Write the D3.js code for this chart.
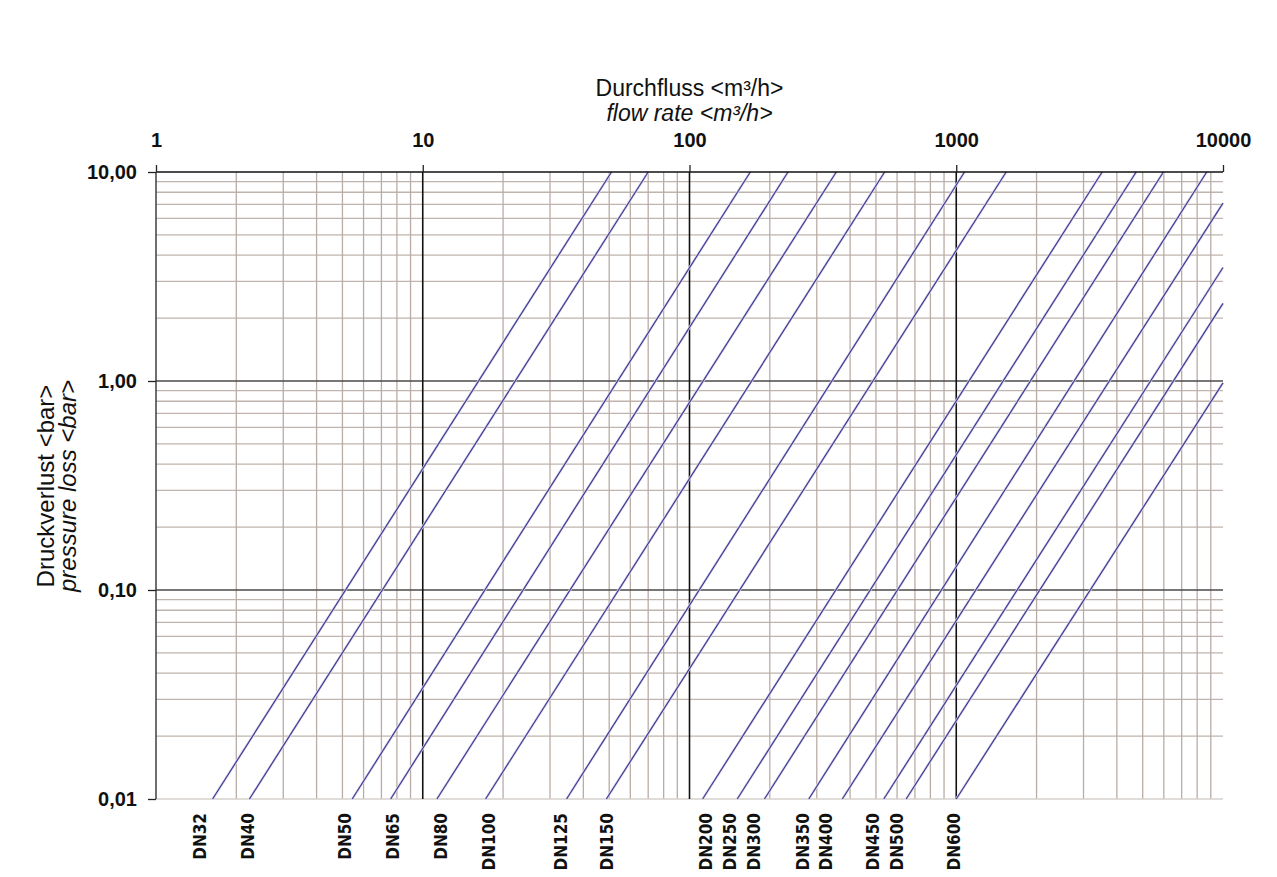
<!DOCTYPE html>
<html lang="de">
  <head>
    <meta charset="utf-8">
    <title>Druckverlust / pressure loss</title>
    <script src="https://d3js.org/d3.v7.min.js"></script>
    <style>
      body { margin: 0; background: #fff; }
      text { font-family: "Liberation Sans", Arial, sans-serif; fill: #111; }
      .dn { font-family: "DejaVu Sans Condensed", "DejaVu Sans", sans-serif; font-stretch: condensed; font-weight: bold; font-size: 17px; }
    </style>
  </head>
  <body>
  <script>

  // nominal sizes
  var dnLabels = ["DN32", "DN40", "DN50", "DN65", "DN80", "DN100", "DN125", "DN150",
                  "DN200", "DN250", "DN300", "DN350", "DN400", "DN450", "DN500", "DN600"];
  // flow rate <m3/h> where each line starts at 0,01 bar
  var qStart = [1.63, 2.24, 5.44, 7.58, 11.3, 17.2, 34.6, 48.8,
                112, 151, 191, 280, 374, 535, 649, 1000];
  // end point of each line (top edge or right edge)
  var qEnd = [51, 70, 169, 234, 355, 539, 1074, 1539,
              3524, 4725, 5979, 8690, 10000, 10000, 10000, 10000];
  var pEnd = [10, 10, 10, 10, 10, 10, 10, 10,
              10, 10, 10, 10, 7.1, 3.49, 2.35, 0.98];
  // where the DN label sits under the chart (flow rate)
  var labelQ = [1.46, 2.21, 5.09, 7.71, 11.7, 17.7, 32.9, 48.9,
                115, 141.5, 174, 265, 324, 486, 598, 982];

  var xTicks = [1, 10, 100, 1000, 10000];
  var xTickLabels = ["1", "10", "100", "1000", "10000"];
  var yTicks = [10, 1, 0.1, 0.01];
  var yTickLabels = ["10,00", "1,00", "0,10", "0,01"];

  var w = 1277;
  var h = 877;
  var margin = {top: 172, right: 54, bottom: 78, left: 156};

  var svg = d3.select("body")
    .append("svg")
    .attr("width", w)
    .attr("height", h);

  var xScale = d3.scaleLog()
    .domain([1, 10000])
    .range([margin.left, w - margin.right]);

  var yScale = d3.scaleLog()
    .domain([0.01, 10])
    .range([h - margin.bottom, margin.top]);

  var x0 = xScale.range()[0], x1 = xScale.range()[1];
  var y0 = yScale.range()[1], y1 = yScale.range()[0];

  // minor grid values 2..9 per decade
  var minorX = [];
  [1, 10, 100, 1000].forEach(function(d) {
    for (var k = 2; k <= 9; k++) minorX.push(d * k);
  });
  var minorY = [];
  [0.01, 0.1, 1].forEach(function(d) {
    for (var k = 2; k <= 9; k++) minorY.push(d * k);
  });

  var grid = svg.append("g");

  grid.selectAll(".hminor").data(minorY).enter().append("line")
    .attr("x1", x0).attr("x2", x1)
    .attr("y1", d => yScale(d)).attr("y2", d => yScale(d))
    .style("stroke", "#bfb4ae")
    .style("stroke-width", 1.3);

  grid.selectAll(".vminor").data(minorX).enter().append("line")
    .attr("x1", d => xScale(d)).attr("x2", d => xScale(d))
    .attr("y1", y0).attr("y2", y1)
    .style("stroke", "#b9aca6")
    .style("stroke-width", 1.3);

  // bottom edge, light
  grid.append("line")
    .attr("x1", x0).attr("x2", x1)
    .attr("y1", y1).attr("y2", y1)
    .style("stroke", "#d6d0cc")
    .style("stroke-width", 1.3);

  // decade lines
  grid.selectAll(".hmajor").data([1, 0.1]).enter().append("line")
    .attr("x1", x0).attr("x2", x1)
    .attr("y1", d => yScale(d)).attr("y2", d => yScale(d))
    .style("stroke", "#4a4a4a")
    .style("stroke-width", 1.5);

  grid.selectAll(".vmajor").data([10, 100, 1000]).enter().append("line")
    .attr("x1", d => xScale(d)).attr("x2", d => xScale(d))
    .attr("y1", y0).attr("y2", y1)
    .style("stroke", "#111")
    .style("stroke-width", 1.6);

  // pressure loss lines
  var lineGen = d3.line()
    .x(d => xScale(d[0]))
    .y(d => yScale(d[1]));

  var lines = dnLabels.map(function(dn, i) {
    return [[qStart[i], 0.01], [qEnd[i], pEnd[i]]];
  });

  svg.append("g").selectAll("path").data(lines).enter().append("path")
    .attr("d", lineGen)
    .style("fill", "none")
    .style("stroke", "#dddbf0")
    .style("stroke-width", 2.6);

  svg.append("g").selectAll("path").data(lines).enter().append("path")
    .attr("d", lineGen)
    .style("fill", "none")
    .style("stroke", "#3f3a8e")
    .style("stroke-width", 1.2);

  // axes: flow rate on top, pressure loss on the left
  var xAxis = d3.axisTop(xScale)
    .tickValues(xTicks)
    .tickFormat((d, i) => xTickLabels[i])
    .tickSize(7)
    .tickPadding(18);

  var gx = svg.append("g")
    .attr("transform", "translate(0," + y0 + ")")
    .call(xAxis);
  gx.select(".domain").attr("d", "M" + x0 + ",0H" + x1).style("stroke", "#111").style("stroke-width", 1.6);
  gx.selectAll(".tick line").style("stroke", "#222").style("stroke-width", 1.3);
  gx.selectAll(".tick text")
    .style("font-family", "'Liberation Sans', Arial, sans-serif")
    .style("font-size", "20px")
    .style("font-weight", "bold")
    .style("fill", "#111");

  var yAxis = d3.axisLeft(yScale)
    .tickValues(yTicks)
    .tickFormat((d, i) => yTickLabels[i])
    .tickSize(8)
    .tickPadding(11);

  var gy = svg.append("g")
    .attr("transform", "translate(" + x0 + ",0)")
    .call(yAxis);
  gy.select(".domain").attr("d", "M0," + y0 + "V" + y1).style("stroke", "#333").style("stroke-width", 1.4);
  gy.selectAll(".tick line").style("stroke", "#222").style("stroke-width", 1.3);
  gy.selectAll(".tick text")
    .style("font-family", "'Liberation Sans', Arial, sans-serif")
    .style("font-size", "20px")
    .style("font-weight", "bold")
    .style("fill", "#111");

  // titles
  var xMid = xScale(100);
  svg.append("text")
    .attr("x", xMid).attr("y", 96)
    .attr("text-anchor", "middle")
    .style("font-size", "23px")
    .text("Durchfluss <m³/h>");
  svg.append("text")
    .attr("x", xMid).attr("y", 121)
    .attr("text-anchor", "middle")
    .style("font-size", "23px")
    .style("font-style", "italic")
    .text("flow rate <m³/h>");

  var yMid = 486;
  svg.append("text")
    .attr("transform", "translate(54," + yMid + ") rotate(-90)")
    .attr("text-anchor", "middle")
    .style("font-size", "24px")
    .text("Druckverlust <bar>");
  svg.append("text")
    .attr("transform", "translate(76," + yMid + ") rotate(-90)")
    .attr("text-anchor", "middle")
    .style("font-size", "24px")
    .style("font-style", "italic")
    .text("pressure loss <bar>");

  // DN labels under the chart
  svg.append("g").selectAll("text").data(dnLabels).enter().append("text")
    .attr("class", "dn")
    .attr("transform", (d, i) => "translate(" + xScale(labelQ[i]) + "," + (y1 + 14) + ") rotate(-90)")
    .attr("text-anchor", "end")
    .attr("dy", "0.36em")
    .text(d => d);

  </script>
  </body>
</html>
